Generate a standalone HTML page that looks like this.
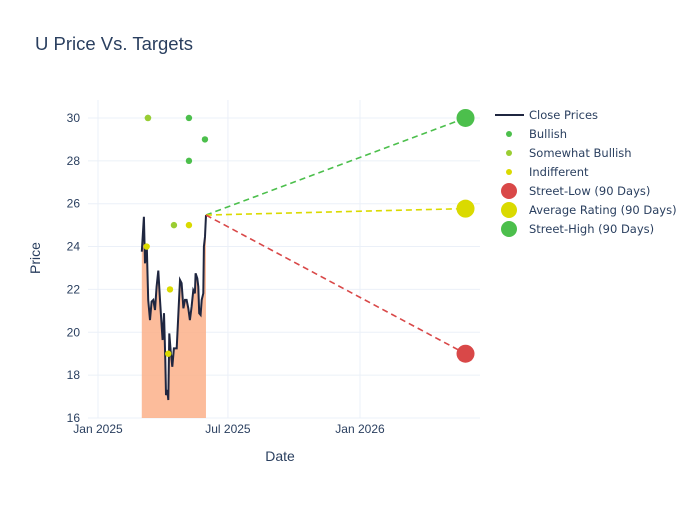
<!DOCTYPE html>
<html><head><meta charset="utf-8"><style>
body{margin:0;background:#fff;font-family:"Liberation Sans",sans-serif;}
svg text{font-family:"Liberation Sans",sans-serif;fill:#2a3f5f;}
#legend text{font-family:"DejaVu Sans",sans-serif;}
</style></head><body>
<svg id="c" width="700" height="500">
<text x="35" y="50" font-size="18.5">U Price Vs. Targets</text>
<g id="grid"></g><g id="marks"></g><g id="legend"></g>
<text x="280" y="461" font-size="14" text-anchor="middle">Date</text>
<text transform="translate(40,258) rotate(-90)" font-size="14" text-anchor="middle">Price</text>
</svg>
<script>
// days since 2025-01-01
const priceDays=[61,64,65.5,68,70,72.4,74.7,77,79.4,81.7,84,86.4,88.7,90,92,93.8,94.7,96.6,98,99.3,101.2,103.5,105.8,109.6,112,114.2,116.5,119,121.2,123.5,125.8,128,130.4,132.8,135,136,138.4,139.7,141,143,144.4,146.7,147.6,149,150.4];
const closePrices=[23.76,25.39,23.22,24.0,21.51,20.57,21.43,21.51,21.04,22.13,22.88,21.51,20.26,19.64,20.89,18.71,17.07,17.31,16.84,19.95,19.17,18.39,19.25,19.25,20.89,22.44,22.29,21.12,21.51,21.51,21.12,20.57,21.2,21.97,21.82,22.75,22.52,22.13,20.89,20.81,21.51,21.82,24.0,24.46,25.47];
const bullishDays=[69.6,126.7,149,126.7];
const bullishVals=[30,30,29,28];
const sbDays=[69.6,105.8];
const sbVals=[30,25];
const indDays=[67.8,100.3,97.9,126.7];
const indVals=[24,22,19,25];
const targetDay=512;
const targetLow=19, targetAvg=25.77, targetHigh=30;
const yTicks=[16,18,20,22,24,26,28,30];
const xTickDays=[0,181,365];
const xTickLabels=["Jan 2025","Jul 2025","Jan 2026"];

const X=d=>98+d*0.7178, Y=v=>418-(v-16)*21.43;
const NS="http://www.w3.org/2000/svg";
function mk(p,tag,a){const e=document.createElementNS(NS,tag);for(const k in a)e.setAttribute(k,a[k]);p.appendChild(e);return e;}
const grid=document.getElementById('grid'),marks=document.getElementById('marks'),leg=document.getElementById('legend');
yTicks.forEach(v=>{
 const l=mk(grid,'line',{x1:88,x2:480,y1:Y(v),y2:Y(v),stroke:'#ebf0f8'});
 
 
 const t=mk(grid,'text',{x:80,y:Y(v)+4,'font-size':12,'text-anchor':'end'});t.textContent=v;
 
 
});
xTickDays.forEach((d,i)=>{
 const l=mk(grid,'line',{x1:X(d),x2:X(d),y1:100,y2:418,stroke:'#ebf0f8'});
 
 
 const t=mk(grid,'text',{x:X(d),y:433,'font-size':12,'text-anchor':'middle'});t.textContent=xTickLabels[i];
 
 
});
let pts=priceDays.map((d,i)=>X(d).toFixed(1)+','+Y(closePrices[i]).toFixed(1));
const area=mk(marks,'polygon',{points:X(priceDays[0])+','+Y(16)+' '+pts.join(' ')+' '+X(priceDays[priceDays.length-1])+','+Y(16),fill:'#fcb08a',opacity:0.85});


const line=mk(marks,'polyline',{points:pts.join(' '),fill:'none',stroke:'#1f2640','stroke-width':2});


const lastD=priceDays[priceDays.length-1],lastP=closePrices[closePrices.length-1];
[[targetHigh,'#4cbf4c','street-high'],[targetAvg,'#dada00','average-rating'],[targetLow,'#d94848','street-low']].forEach(([v,c,n])=>{
 const l=mk(marks,'line',{x1:X(lastD),y1:Y(lastP),x2:X(targetDay),y2:Y(v),stroke:c,'stroke-width':1.6,'stroke-dasharray':'6,4'});
 
 
});
function dots(ds,vs,c,n){ds.forEach((d,i)=>{const e=mk(marks,'circle',{cx:X(d),cy:Y(vs[i]),r:3.2,fill:c});
 
 });}
dots(bullishDays,bullishVals,'#4cbf4c','bullish-point');
dots(sbDays,sbVals,'#9acd32','somewhat-bullish-point');
dots(indDays,indVals,'#dada00','indifferent-point');
[[targetLow,'#d94848','street-low-marker'],[targetAvg,'#dada00','average-rating-marker'],[targetHigh,'#4cbf4c','street-high-marker']].forEach(([v,c,n])=>{
 const e=mk(marks,'circle',{cx:X(targetDay),cy:Y(v),r:9,fill:c});
 
 
});
const legItems=[['line','#1f2640','Close Prices'],['s','#4cbf4c','Bullish'],['s','#9acd32','Somewhat Bullish'],['s','#dada00','Indifferent'],['b','#d94848','Street-Low (90 Days)'],['b','#dada00','Average Rating (90 Days)'],['b','#4cbf4c','Street-High (90 Days)']];
legItems.forEach(([k,c,t],i)=>{
 const y=115+i*19;
 const g=mk(leg,'g',{});
 
 
 if(k==='line')mk(g,'line',{x1:495,x2:524,y1:y,y2:y,stroke:c,'stroke-width':2});
 else mk(g,'circle',{cx:509,cy:y,r:k==='s'?3:8,fill:c});
 const tx=mk(g,'text',{x:529,y:y+4,'font-size':11.5});tx.textContent=t;
});
</script>
</body></html>
